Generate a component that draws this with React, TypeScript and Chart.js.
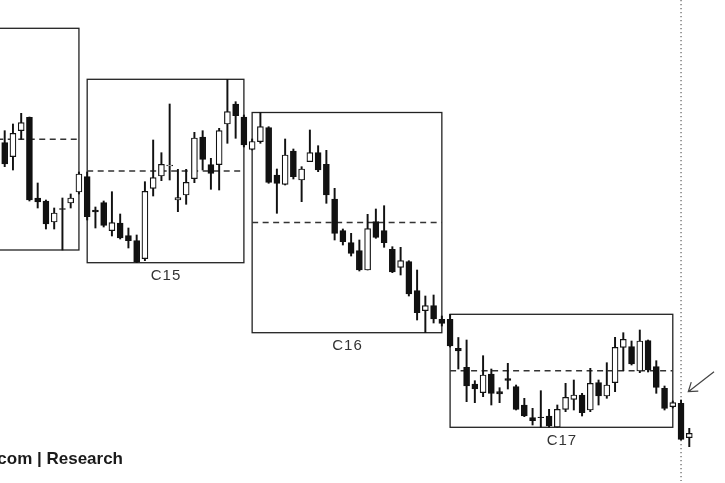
import React, { useEffect, useRef } from "react";
import { Chart, registerables } from "chart.js";

Chart.register(...registerables);

// Candle index of the first entry (the candle cut at the left edge)
const FIRST_INDEX = -1;

// OHLC series (arbitrary price units)
const opens = [
  360, 357.3, 343.3, 369.3, 382.7, 302, 299, 278, 291.5, 297, 308,
  323.3, 290, 297.3, 269.3, 277, 264.3, 259.3, 241.3, 311.7, 324,
  334, 300, 305, 321.3, 363, 335.3, 335.3, 376, 396, 383,
  350.7, 358.3, 372.3, 325, 315.7, 349, 320, 338.3, 347.3, 335.7,
  301, 269.5, 257.3, 249.3, 230, 278.3, 269.3, 250.7, 232.7, 238.3,
  209.3, 189.3, 194.3, 180.7, 180.7, 151.7, 132.7, 116, 107.3, 126,
  108.3, 121.3, 113.3, 95, 82.3, 83, 84, 73, 90.7, 100.7,
  105, 90, 117.3, 104, 117.3, 152.7, 153.3, 129, 159.3, 133.3,
  111.7, 93.3, 96.7, 62.3,
];
const highs = [
  376, 369.3, 376, 386.7, 383, 317, 300, 292, 302, 306, 328,
  328, 293, 299, 308.3, 286, 272, 265, 318.3, 360, 347.3,
  396, 330.7, 330.7, 367.7, 369.3, 341.7, 371.7, 420.7, 398.3, 385,
  361, 387.5, 373.3, 331, 361, 351, 333.3, 370, 354.3, 349.7,
  311.7, 271, 266.7, 260, 285.7, 291, 294.3, 253.3, 252.7, 239.3,
  230, 204, 205, 184, 185.7, 162.5, 160, 119.3, 144.3, 131,
  112.3, 136.7, 115, 101.7, 91.7, 109.3, 90.7, 95, 116.7, 120,
  106.7, 131.7, 120, 137.3, 162.7, 167.3, 159, 170, 160, 139.3,
  114, 99, 100, 71.7,
];
const lows = [
  358, 333.3, 330, 360.7, 299, 292, 271, 271, 250, 292, 306,
  280, 272, 273, 264, 261, 252, 237.3, 239.3, 304, 319.3,
  320, 288.3, 295.7, 317.3, 330, 310.7, 310, 356.7, 361.7, 353,
  350, 356.7, 316.7, 286.7, 315, 321, 298.3, 338.3, 328.3, 296.7,
  260, 255, 244, 229, 230, 261.7, 252.7, 227.3, 225, 204,
  180, 167.3, 177, 174, 153, 131, 98.3, 97.3, 103.3, 95,
  97.3, 111, 90, 83.3, 75, 72.7, 72.7, 72.7, 88.3, 90,
  84, 88.3, 95, 101.7, 108.3, 129.3, 135, 127.3, 128, 106.7,
  90, 92, 60, 53.3,
];
const closes = [
  373, 336, 366.7, 377.3, 300, 298, 276, 287, 290.5, 302, 326,
  283.3, 288, 274.7, 277.3, 262, 259.3, 238, 308.7, 322.3, 335.7,
  335, 302.3, 317.7, 362, 340.7, 326.7, 369.3, 388.3, 384.3, 355,
  358.5, 373.3, 317.7, 316.7, 345, 323.3, 331, 347.3, 330, 305,
  266.7, 258.3, 246.7, 230, 271.3, 262.7, 257.3, 228, 239.3, 206,
  187.3, 194.3, 181, 176.5, 154, 149, 114, 111, 125, 106.7,
  106, 119.7, 90.7, 84, 79.3, 82.3, 74, 90.7, 102.7, 105,
  87.3, 116.7, 104, 115, 152.7, 160.7, 136, 159, 130, 112.7,
  91.7, 97.3, 60.7, 66.7,
];

// Range boxes (candle index span, high/low of the range, label)
const boxStart = [-20, 10, 30, 54];
const boxEnd = [9, 29, 53, 81];
const boxHigh = [471.7, 420.7, 387.5, 185.7];
const boxLow = [250, 237.3, 167.3, 72.7];
const boxLabels = ["", "C15", "C16", "C17"];

// Marker: dotted vertical line at a candle, and an arrow pointing to it
const markerIndex = 82;
const arrowFromX = 86.0;
const arrowFromY = 128.3;
const arrowToX = 82.88;
const arrowToY = 108.3;

const footerText = "com | Research";

const overlayPlugin = {
  id: "overlay",
  beforeDatasetsDraw(chart: any) {
    const { ctx } = chart;
    const xs = chart.scales.x;
    const ys = chart.scales.y;
    ctx.save();
    // boxes, midlines and labels
    boxStart.forEach((s, i) => {
      const x0 = xs.getPixelForValue(s);
      const x1 = xs.getPixelForValue(boxEnd[i]);
      const y0 = ys.getPixelForValue(boxHigh[i]);
      const y1 = ys.getPixelForValue(boxLow[i]);
      ctx.setLineDash([]);
      ctx.strokeStyle = "#222";
      ctx.lineWidth = 1.3;
      ctx.strokeRect(x0, y0, x1 - x0, y1 - y0);
      const ym = ys.getPixelForValue((boxHigh[i] + boxLow[i]) / 2);
      ctx.setLineDash([6, 4.5]);
      ctx.strokeStyle = "#333";
      ctx.lineWidth = 1.5;
      ctx.beginPath();
      ctx.moveTo(x0, ym);
      ctx.lineTo(x1, ym);
      ctx.stroke();
      if (boxLabels[i]) {
        ctx.setLineDash([]);
        ctx.fillStyle = "#333";
        ctx.font = '15px "Liberation Sans", Arial, sans-serif';
        try {
          (ctx as any).letterSpacing = "1px";
        } catch (e) {}
        ctx.textAlign = "center";
        ctx.textBaseline = "middle";
        ctx.fillText(boxLabels[i], (x0 + x1) / 2 + 0.5, y1 + 13.5);
        try {
          (ctx as any).letterSpacing = "0px";
        } catch (e) {}
      }
    });
    // dotted marker line
    const mx = xs.getPixelForValue(markerIndex);
    ctx.setLineDash([1.3, 2.7]);
    ctx.strokeStyle = "#6a6a6a";
    ctx.lineWidth = 1.3;
    ctx.beginPath();
    ctx.moveTo(mx, 0);
    ctx.lineTo(mx, 481);
    ctx.stroke();
    // arrow
    const ax0 = xs.getPixelForValue(arrowFromX);
    const ay0 = ys.getPixelForValue(arrowFromY);
    const ax1 = xs.getPixelForValue(arrowToX);
    const ay1 = ys.getPixelForValue(arrowToY);
    const ang = Math.atan2(ay0 - ay1, ax0 - ax1);
    const hl = 10;
    ctx.setLineDash([]);
    ctx.strokeStyle = "#444";
    ctx.lineWidth = 1.2;
    ctx.beginPath();
    ctx.moveTo(ax0, ay0);
    ctx.lineTo(ax1, ay1);
    ctx.moveTo(ax1 + hl * Math.cos(ang - 0.61), ay1 + hl * Math.sin(ang - 0.61));
    ctx.lineTo(ax1, ay1);
    ctx.lineTo(ax1 + hl * Math.cos(ang + 0.61), ay1 + hl * Math.sin(ang + 0.61));
    ctx.stroke();
    // footer text
    ctx.fillStyle = "#1a1a1a";
    ctx.font = 'bold 17px "Liberation Sans", Arial, sans-serif';
    ctx.textAlign = "right";
    ctx.textBaseline = "alphabetic";
    ctx.fillText(footerText, 123, 463.5);
    ctx.restore();
  },
};

export default function App() {
  const ref = useRef<HTMLCanvasElement | null>(null);
  useEffect(() => {
    if (!ref.current) return;
    const idx = opens.map((_, i) => i + FIRST_INDEX);
    const bodies = idx.map((k, i) => ({ x: k, y: [opens[i], closes[i]] }));
    const wicks = idx.map((k, i) => ({ x: k, y: [lows[i], highs[i]] }));
    const up = opens.map((o, i) => closes[i] >= o);
    const chart = new Chart(ref.current, {
      type: "bar",
      data: {
        datasets: [
          {
            data: bodies as any,
            backgroundColor: up.map((u) => (u ? "#ffffff" : "#111111")),
            borderColor: "#111111",
            borderWidth: 1.2,
            borderSkipped: false,
            barThickness: 6,
            grouped: false,
          } as any,
          {
            data: wicks as any,
            backgroundColor: "#111111",
            borderWidth: 0,
            barThickness: 1.3,
            grouped: false,
          } as any,
        ],
      },
      options: {
        responsive: false,
        animation: false,
        devicePixelRatio: 1,
        layout: { padding: 0 },
        plugins: { legend: { display: false }, tooltip: { enabled: false } },
        scales: {
          x: { type: "linear", min: -0.57, max: 87.33, offset: false, display: false },
          y: { type: "linear", min: 17, max: 500, display: false },
        },
      },
      plugins: [overlayPlugin],
    });
    return () => chart.destroy();
  }, []);
  return (
    <div style={{ position: "absolute", left: 0, top: 0, width: 725, height: 483, background: "#fff" }}>
      <canvas ref={ref} width={725} height={483} style={{ display: "block" }} />
    </div>
  );
}
